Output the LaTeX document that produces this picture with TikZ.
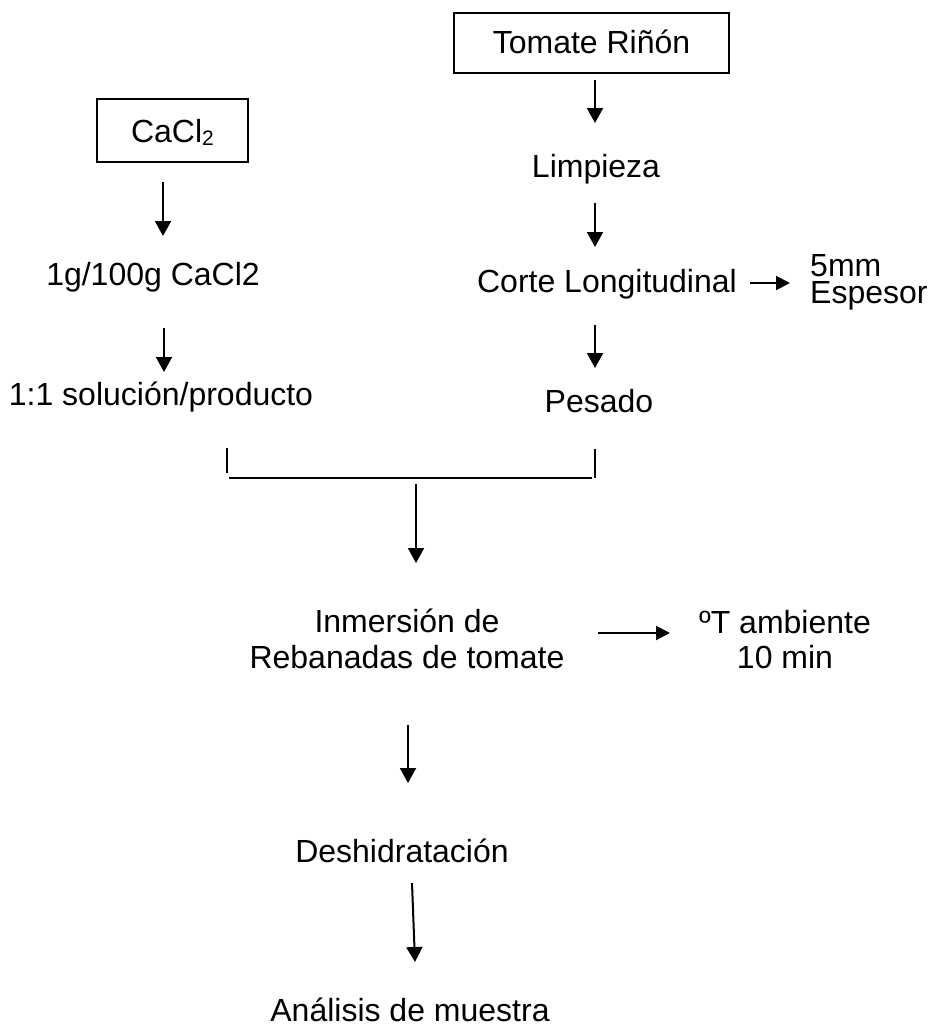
\documentclass[tikz,border=0pt]{standalone}
\usepackage{fontspec}
\setmainfont{Liberation Sans}
\usetikzlibrary{arrows.meta}
\begin{document}
\begin{tikzpicture}[x=1pt,y=-1pt,
  txt/.style={inner sep=0pt,anchor=base,font=\fontsize{32}{36}\selectfont},
  ml/.style={txt,align=center},
  boxnode/.style={draw,line width=1.4pt,inner sep=0pt,font=\fontsize{32}{36}\selectfont,text height=23pt,text depth=0pt},
  arr/.style={line width=2pt,-{Triangle[width=16pt,length=15pt]}},
  harr/.style={line width=2pt,-{Triangle[width=14pt,length=14pt]}},
  brk/.style={line width=2pt}]
\useasboundingbox (0,0) rectangle (932,1025);
% boxes
\node[boxnode,minimum width=275pt,minimum height=60pt,text height=23pt,text depth=3pt] (tomate) at (591.5,43) {Tomate Riñón};
\node[boxnode,minimum width=151pt,minimum height=63pt] (cacl) at (172.5,130.5) {CaCl\raisebox{-0.12em}{\fontsize{21}{21}\selectfont 2}};
% left column
\node[txt] (dosis) at (153,285) {1g/100g CaCl2};
\node[txt] (sol) at (161,405) {1:1 solución/producto};
% right column
\node[txt] (limp) at (596,177) {Limpieza};
\node[txt] (corte) at (607,292) {Corte Longitudinal};
\node[txt,anchor=base west,align=left] (esp) at (810,303) {5mm\\[-9pt]Espesor};
\node[txt] (pes) at (599,412) {Pesado};
% middle
\node[ml] (inm) at (407,668) {Inmersión de\\Rebanadas de tomate};
\node[ml] (temp) at (785,668) {ºT ambiente\\[-1pt]10 min};
\node[txt] (desh) at (402,862) {Deshidratación};
\node[txt] (anal) at (410,1021) {Análisis de muestra};
% arrow end points
\coordinate (a1s) at (163,182); \coordinate (a1e) at (163,236);
\coordinate (a2s) at (164,328); \coordinate (a2e) at (164,372);
\coordinate (b1s) at (595,80);  \coordinate (b1e) at (595,123);
\coordinate (b2s) at (595,203); \coordinate (b2e) at (595,247);
\coordinate (b3s) at (595,325); \coordinate (b3e) at (595,368);
\coordinate (hs) at (750,283);  \coordinate (he) at (790,283);
\coordinate (bl1) at (227,448); \coordinate (bl2) at (227,473);
\coordinate (bh1) at (229,478); \coordinate (bh2) at (592,478);
\coordinate (br1) at (595,449); \coordinate (br2) at (595,478);
\coordinate (ms) at (416,484);  \coordinate (me) at (416,563);
\coordinate (ts) at (598,633);  \coordinate (te) at (670,633);
\coordinate (ds) at (408,725);  \coordinate (de) at (408,783);
\coordinate (es) at (412,883);  \coordinate (ee) at (415,962);
% connectors
\draw[arr] (a1s) -- (a1e);
\draw[arr] (a2s) -- (a2e);
\draw[arr] (b1s) -- (b1e);
\draw[arr] (b2s) -- (b2e);
\draw[arr] (b3s) -- (b3e);
\draw[harr] (hs) -- (he);
\draw[brk] (bl1) -- (bl2);
\draw[brk] (bh1) -- (bh2);
\draw[brk] (br1) -- (br2);
\draw[arr] (ms) -- (me);
\draw[harr] (ts) -- (te);
\draw[arr] (ds) -- (de);
\draw[arr] (es) -- (ee);
\end{tikzpicture}
\end{document}
